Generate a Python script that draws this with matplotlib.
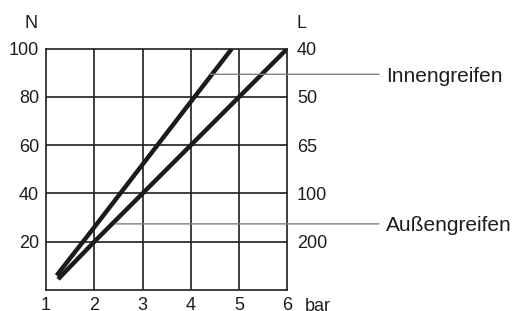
import matplotlib
matplotlib.use("Agg")
import matplotlib.pyplot as plt
import matplotlib.transforms as mtransforms

# ---- data ----
pressure_inner = [1.22, 2, 3, 4, 4.85]
force_inner = [6, 26, 52, 78, 100]
pressure_outer = [1.25, 2, 3, 4, 5, 6]
force_outer = [4.5, 20, 40, 60, 80, 100]

x_ticks = [1, 2, 3, 4, 5, 6]
x_ticklabels = ["1", "2", "3", "4", "5", "6"]
y_ticks = [20, 40, 60, 80, 100]
y_ticklabels_left = ["20", "40", "60", "80", "100"]
y_ticklabels_right = ["200", "100", "65", "50", "40"]

label_inner = "Innengreifen"
label_outer = "Außengreifen"
anchor_inner = (4.38, 89.4)
anchor_outer = (2.44, 27.4)

plt.rcParams['font.family'] = ['Liberation Sans', 'DejaVu Sans']

W, H = 517, 311
fig = plt.figure(figsize=(W / 100, H / 100), dpi=100)
L, R, B, T = 46 / W, 287.3 / W, (H - 290) / H, (H - 48.7) / H
ax = fig.add_axes([L, B, R - L, T - B])

ax.set_xlim(1, 6)
ax.set_ylim(0, 100)

gc = "#1e1e1e"
for x in x_ticks[1:-1]:
    ax.axvline(x, color=gc, lw=1.2, zorder=1)
for y in y_ticks[:-1]:
    ax.axhline(y, color=gc, lw=1.2, zorder=1)
for s in ax.spines.values():
    s.set_color(gc)
    s.set_linewidth(1.2)

lc = "#1c1a1a"
ax.plot(pressure_inner, force_inner, color=lc, lw=3.2, solid_capstyle='butt', zorder=3)
ax.plot(pressure_outer, force_outer, color=lc, lw=3.2, solid_capstyle='butt', zorder=3)

fs = 13
tc = "#1e1e1e"
ax.set_xticks(x_ticks)
ax.set_xticklabels(x_ticklabels, fontsize=fs, color=tc)
ax.set_yticks(y_ticks)
ax.set_yticklabels(y_ticklabels_left, fontsize=fs, color=tc)
ax.tick_params(axis='x', length=0, pad=5)
ax.tick_params(axis='y', length=0, pad=5)

ax2 = ax.twinx()
ax2.set_ylim(0, 100)
ax2.set_yticks(y_ticks)
ax2.set_yticklabels(y_ticklabels_right, fontsize=fs, color=tc)
ax2.tick_params(axis='y', length=0, pad=7)
for s in ax2.spines.values():
    s.set_visible(False)

# axis titles
fig.text(31.5 / W, (H - 23) / H, "N", fontsize=fs, ha='center', va='center', color=tc)
fig.text(296 / W, (H - 23) / H, "L", fontsize=fs, ha='left', va='center', color=tc)
ax.annotate("bar", xy=(6, 0), xycoords='data', xytext=(12.5, -5.5), textcoords='offset points',
            fontsize=fs, ha='left', va='top', color=tc, annotation_clip=False)

# leader lines and labels
trans = mtransforms.blended_transform_factory(fig.transFigure, ax.transData)
for (ax_x, ax_y), lab in [(anchor_inner, label_inner), (anchor_outer, label_outer)]:
    ax.annotate("", xy=(ax_x, ax_y), xycoords='data',
                xytext=(379 / W, ax_y), textcoords=trans,
                arrowprops=dict(arrowstyle='-', color="#808080", lw=1.0,
                                shrinkA=0, shrinkB=0),
                annotation_clip=False)
    ax.text(386 / W, ax_y - 3.0, lab, transform=trans, fontsize=15,
            ha='left', va='baseline', color=tc)

fig.savefig("out.png", dpi=100)
